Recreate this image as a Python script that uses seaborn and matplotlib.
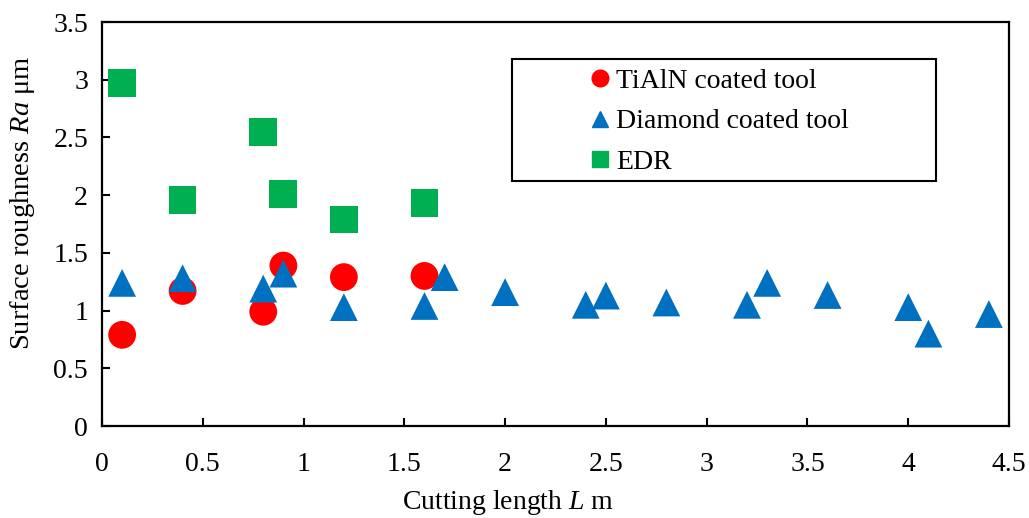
import matplotlib
matplotlib.use("Agg")
import matplotlib.pyplot as plt
from matplotlib.patches import Rectangle
import seaborn as sns
import pandas as pd

# Surface roughness measurements versus cutting length
tialn_length = [0.1, 0.4, 0.8, 0.9, 1.2, 1.6]
tialn_ra = [0.79, 1.17, 0.99, 1.39, 1.29, 1.30]

diamond_length = [0.1, 0.4, 0.8, 0.9, 1.2, 1.6, 1.7, 2.0, 2.4, 2.5, 2.8,
                  3.2, 3.3, 3.6, 4.0, 4.1, 4.4]
diamond_ra = [1.24, 1.28, 1.19, 1.32, 1.03, 1.04, 1.29, 1.16, 1.05, 1.13, 1.07,
              1.05, 1.24, 1.135, 1.03, 0.80, 0.97]

edr_length = [0.1, 0.4, 0.8, 0.9, 1.2, 1.6]
edr_ra = [2.97, 1.96, 2.55, 2.01, 1.79, 1.93]

labels = ["TiAlN coated tool", "Diamond coated tool", "EDR"]
colors = ["#FF0000", "#0070C0", "#00B050"]
markers = ["o", "^", "s"]

x_ticks = [0, 0.5, 1, 1.5, 2, 2.5, 3, 3.5, 4, 4.5]
y_ticks = [0, 0.5, 1, 1.5, 2, 2.5, 3, 3.5]

df = pd.concat([
    pd.DataFrame({"L": tialn_length, "Ra": tialn_ra, "tool": labels[0]}),
    pd.DataFrame({"L": diamond_length, "Ra": diamond_ra, "tool": labels[1]}),
    pd.DataFrame({"L": edr_length, "Ra": edr_ra, "tool": labels[2]}),
], ignore_index=True)

sns.set_theme(style="white")
plt.rcParams["font.family"] = ["Liberation Serif", "DejaVu Serif"]
plt.rcParams["text.color"] = "black"
plt.rcParams["mathtext.fontset"] = "custom"
plt.rcParams["mathtext.rm"] = "Liberation Serif"
plt.rcParams["mathtext.it"] = "Liberation Serif:italic"

fig = plt.figure(figsize=(10.29, 5.18), dpi=100)
ax = fig.add_axes([0.0991, 0.1776, 0.8815, 0.7799])

sns.scatterplot(
    data=df, x="L", y="Ra", hue="tool", style="tool",
    hue_order=labels, style_order=labels,
    palette=dict(zip(labels, colors)),
    markers=dict(zip(labels, markers)),
    s=400, linewidth=0, ax=ax, legend=False, zorder=3,
)

ax.set_xlim(0, 4.5)
ax.set_ylim(0, 3.5)
ax.set_xticks(x_ticks)
ax.set_yticks(y_ticks)
ax.set_xticklabels([f"{v:g}" for v in x_ticks])
ax.set_yticklabels([f"{v:g}" for v in y_ticks])
ax.tick_params(direction="in", length=6, width=1.5, labelsize=20,
               colors="black", bottom=True, left=True)
ax.tick_params(axis="x", pad=19)
ax.tick_params(axis="y", pad=10)
for sp in ax.spines.values():
    sp.set_color("black")
    sp.set_linewidth(1.6)

ax.set_xlabel("Cutting length $L$ m", fontsize=20, color="black")
ax.set_ylabel("Surface roughness $Ra$ μm", fontsize=20.5, color="black")
ax.xaxis.label.set_va("center")
ax.yaxis.label.set_va("center")
ax.xaxis.set_label_coords(0.448, -0.19)
ax.yaxis.set_label_coords(-0.088, 0.553)

# legend frame and entries
ax.add_patch(Rectangle((0.452, 0.606), 0.467, 0.302, transform=ax.transAxes,
                       fill=False, edgecolor="black", linewidth=1.5, zorder=4))
handles = [plt.Line2D([], [], linestyle="none", marker=m, color=c,
                      markersize=12 if m != "s" else 11)
           for m, c in zip(markers, colors)]
leg = ax.legend(handles, labels, loc="upper left",
                bbox_to_anchor=(0.532, 0.898), frameon=False,
                fontsize=20, handlelength=0.7, handletextpad=0.25,
                labelspacing=0.53, borderaxespad=0, borderpad=0.2)
for t in leg.get_texts():
    t.set_color("black")

fig.savefig("out.png", dpi=100, facecolor="white")
